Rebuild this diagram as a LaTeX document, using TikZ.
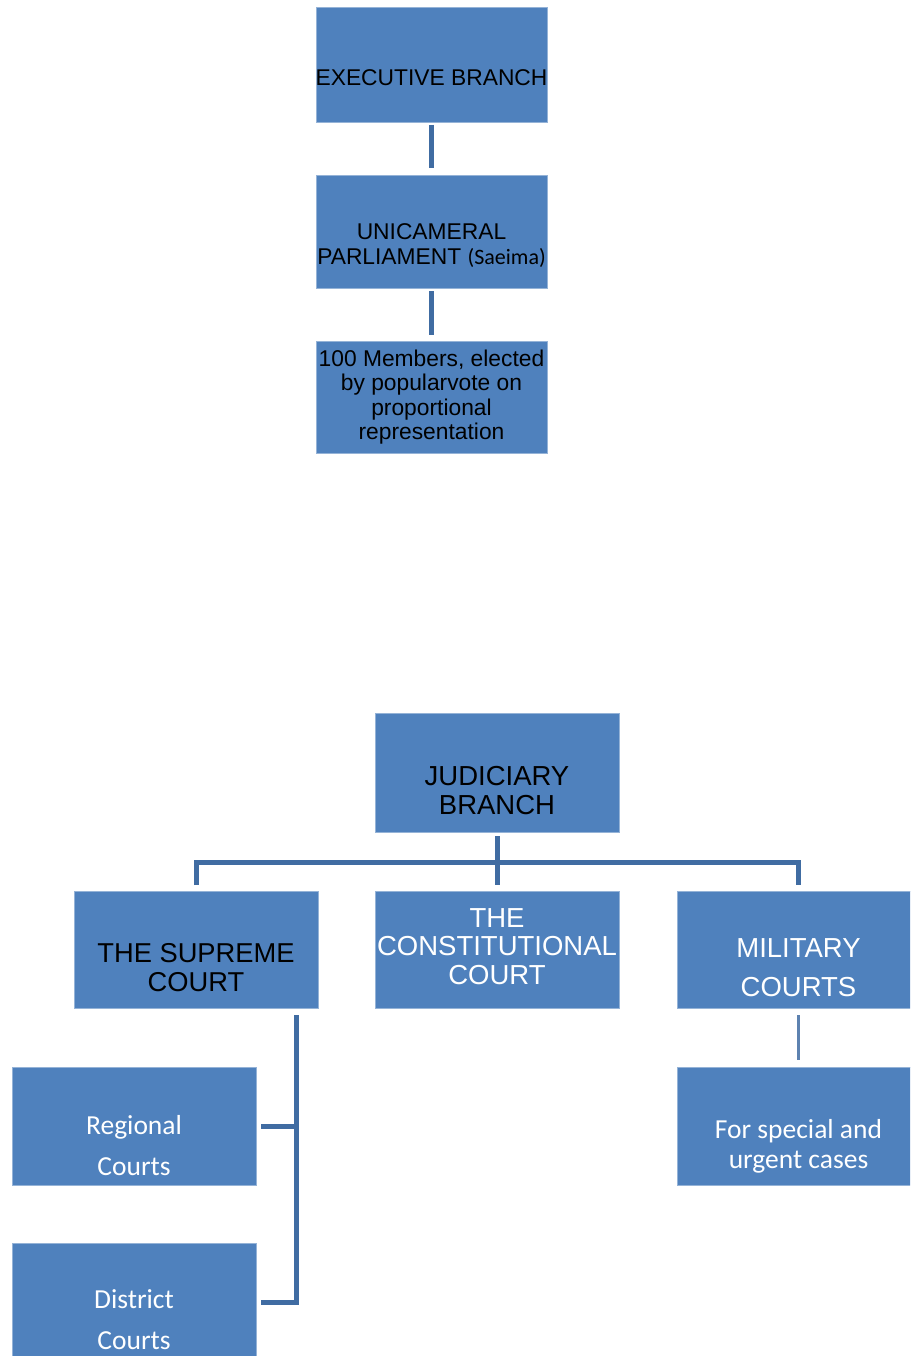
\documentclass[tikz,border=0pt]{standalone}
\usepackage{fontspec}
\setmainfont{Liberation Sans}
\newfontfamily\calfont{Carlito}
\usetikzlibrary{calc}
\definecolor{boxblue}{RGB}{79,129,189}
\definecolor{connblue}{RGB}{64,108,162}
\tikzset{
  box/.style={fill=boxblue, draw=boxblue!60!white, line width=0.6pt, inner sep=0pt, outer sep=0pt},
  conn/.style={draw=connblue, line width=5pt},
  thinconn/.style={draw=connblue!85!white, line width=3pt},
  blk/.style={text=black, align=center, inner sep=0pt},
  wht/.style={text=white, align=center, inner sep=0pt},
  upfont/.style={font=\fontsize{22.8}{24.5}\selectfont},
}
\begin{document}
\begin{tikzpicture}[x=1pt,y=-1pt]
\clip (0,0) rectangle (910,1356);
\fill[white] (0,0) rectangle (910,1356);
% executive
\node[box, minimum width=231pt, minimum height=115pt] (exec) at (431.5,64.5) {};
\node[box, minimum width=231pt, minimum height=113pt] (parl) at (431.5,231.5) {};
\node[box, minimum width=231pt, minimum height=112pt] (memb) at (431.5,397) {};
\node[blk, upfont] (exect) at ($(exec.center)+(0,13.5)$) {EXECUTIVE BRANCH};
\node[blk, upfont] (parlt) at ($(parl.center)+(0,14)$) {UNICAMERAL\\PARLIAMENT {\calfont\fontsize{22}{24.5}\selectfont (Saeima)}};
\node[blk, upfont] (membt) at ($(memb.center)+(0,0)$) {100 Members, elected\\by popularvote on\\proportional\\representation};
\draw[conn] ([yshift=-3pt]exec.south) -- ([yshift=7pt]parl.north);
\draw[conn] ([yshift=-3pt]parl.south) -- ([yshift=6pt]memb.north);
% judiciary
\node[box, minimum width=244pt, minimum height=119pt] (jud) at (497,772.5) {};
\node[box, minimum width=244pt, minimum height=117pt] (sup) at (196,949.5) {};
\node[box, minimum width=244pt, minimum height=117pt] (const) at (497,949.5) {};
\node[box, minimum width=243pt, minimum height=117pt] (mil) at (798.5,949.5) {};
\node[box, minimum width=243pt, minimum height=118pt] (spec) at (798.5,1126) {};
\node[box, minimum width=244pt, minimum height=118pt] (reg) at (134,1126) {};
\node[box, minimum width=244pt, minimum height=118pt] (dist) at (134,1302) {};
\node[blk, font=\fontsize{27.5}{29}\selectfont] (judt) at ($(jud.center)+(0,18)$) {JUDICIARY\\BRANCH};
\node[blk, font=\fontsize{27.3}{29}\selectfont] (supt) at ($(sup.center)+(0,18)$) {THE SUPREME\\COURT};
\node[wht, font=\fontsize{27.5}{28.5}\selectfont] (constt) at ($(const.center)+(0,-3)$) {THE\\CONSTITUTIONAL\\COURT};
\node[wht, font=\fontsize{27.5}{39}\selectfont] (milt) at ($(mil.center)+(0,18)$) {MILITARY\\COURTS};
\node[wht, font=\calfont\fontsize{27.5}{30}\selectfont] (spect) at ($(spec.center)+(0,20)$) {For special and\\urgent cases};
\node[wht, font=\calfont\fontsize{27.5}{41}\selectfont] (regt) at ($(reg.center)+(0,19.5)$) {Regional\\Courts};
\node[wht, font=\calfont\fontsize{27.5}{41}\selectfont] (distt) at ($(dist.center)+(0,17.5)$) {District\\Courts};
% tree
\coordinate (jj) at ($(jud.south)+(0,30)$);
\draw[conn] ([yshift=-4pt]jud.south) -- ([yshift=6pt]const.north);
\draw[conn] ([yshift=6pt]sup.north) |- (jj) -| ([yshift=6pt]mil.north);
\draw[thinconn] ([yshift=-7pt]mil.south) -- ([yshift=7pt]spec.north);
\coordinate (sj) at ($(sup.south east)+(-22,7)$);
\draw[conn] (sj) |- ([xshift=5pt]dist.east);
\draw[conn] ([xshift=5pt]reg.east) -- (reg.east -| sj);
\end{tikzpicture}
\end{document}
